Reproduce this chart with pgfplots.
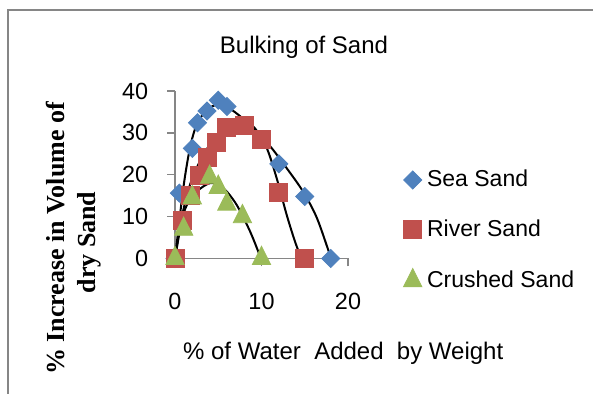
\documentclass[border=0pt]{standalone}
\usepackage{fontspec}
\setmainfont{Liberation Sans}
\newfontfamily\labelserif{Liberation Serif}
\usepackage{pgfplots}
\pgfplotsset{compat=1.18}

\definecolor{seablue}{HTML}{4F81BD}
\definecolor{riverred}{HTML}{C0504D}
\definecolor{crushgreen}{HTML}{9BBB59}
\definecolor{axisgray}{HTML}{868686}

\begin{document}
\begin{tikzpicture}[x=1pt,y=1pt]
\useasboundingbox (0,0) rectangle (296.5,197);
% chart area border
\draw[axisgray, line width=0.7pt] (4,-2) -- (4,192) -- (298,192);
% chart title
\node[font=\fontsize{12}{14}\selectfont, anchor=base] at (152,170.35) {Bulking of Sand};
% axis titles
\node[rotate=90, anchor=base, font=\labelserif\bfseries\fontsize{13}{15}\selectfont] at (32.3,77.75) {\% Increase in Volume of};
\node[rotate=90, anchor=base, font=\labelserif\bfseries\fontsize{13}{15}\selectfont] at (47.75,75.75) {dry Sand};
\node[font=\fontsize{12}{14}\selectfont, anchor=base] at (171.6,17) {\% of Water\ \ Added\ \ by Weight};

\begin{axis}[
  at={(87.5pt,67.75pt)}, anchor=south west,
  scale only axis, width=86.5pt, height=83.75pt,
  xmin=0, xmax=20, ymin=0, ymax=40,
  axis x line*=bottom, axis y line*=left,
  axis line style={-, axisgray, line width=0.75pt},
  xtick={0,10,20}, ytick={0,10,20,30,40},
  tick align=outside, major tick length=4pt,
  tick style={axisgray, line width=0.75pt},
  /pgf/number format/assume math mode=true,
  tick label style={font=\fontsize{11.7}{14}\selectfont, inner sep=0pt},
  xticklabel style={anchor=north, yshift=-13.3pt},
  yticklabel style={anchor=east, xshift=-9.25pt},
  clip=false,
  legend cell align=left,
  legend image code/.code={\draw[#1] plot coordinates {(0pt,0pt)};},
  legend style={draw=none, fill=none, inner sep=0pt, outer sep=0pt,
    at={(rel axis cs:1.321,0.168)}, anchor=west,
    font=\fontsize{11.5}{13}\selectfont,
    row sep=14.75pt, column sep=2.6pt,
    nodes={inner sep=0pt}},
]
% Sea Sand
\addplot[only marks, mark=square*, mark size=3.2pt, color=seablue,
  mark options={rotate=45, fill=seablue, draw=seablue}]
  coordinates {(0,0) (0.5,15.6) (2,26.3) (2.6,32.4) (3.7,35.2) (5,37.8) (6,36.3) (12,22.6) (15,14.8) (18,0)};
\addlegendentry{Sea Sand}
% River Sand
\addplot[only marks, mark=square*, mark size=4.5pt, color=riverred,
  mark options={fill=riverred, draw=riverred}]
  coordinates {(0,0) (0.8,9.2) (1.8,15) (2.8,19.8) (3.8,24.1) (4.75,27.7) (5.9,31.3) (8,31.7) (10,28.5) (12,15.8) (15,0)};
\addlegendentry{River Sand}
% Crushed Sand
\addplot[only marks, mark=triangle*, mark size=5.3pt, color=crushgreen,
  mark options={fill=crushgreen, draw=crushgreen, yscale=1.15}]
  coordinates {(0,0) (1,7) (2,14.5) (4,19.4) (5,17) (6,13) (7.8,10) (10,0)};
\addlegendentry{Crushed Sand}
% polynomial trendlines
\addplot[forget plot, black, line width=1pt, smooth, no marks]
  coordinates {(0,0) (0.96,16.8) (1.73,26.4) (2.5,31.9) (3.66,35.5) (5.0,36.7) (6.55,35.5) (8.67,31.9) (11.0,26.8) (12.9,21.6) (14.8,16.0) (16.4,9.7) (17.9,0.9) (18.05,0)};
\addplot[forget plot, black, line width=1pt, smooth, no marks]
  coordinates {(0,0) (0.77,9.7) (1.73,17.6) (3.27,24.8) (5.2,30) (7.51,32.7) (9.06,31.5) (10.6,26.4) (11.75,19.2) (12.9,10.5) (13.8,4.5) (14.4,1.2) (14.9,0)};
\addplot[forget plot, black, line width=1pt, smooth, no marks]
  coordinates {(0,0) (0.96,10.5) (2.12,15.2) (4.05,18.0) (5.59,16.8) (7.13,12.8) (8.67,6.5) (9.83,0.6) (10,0)};
\end{axis}
\end{tikzpicture}
\end{document}
